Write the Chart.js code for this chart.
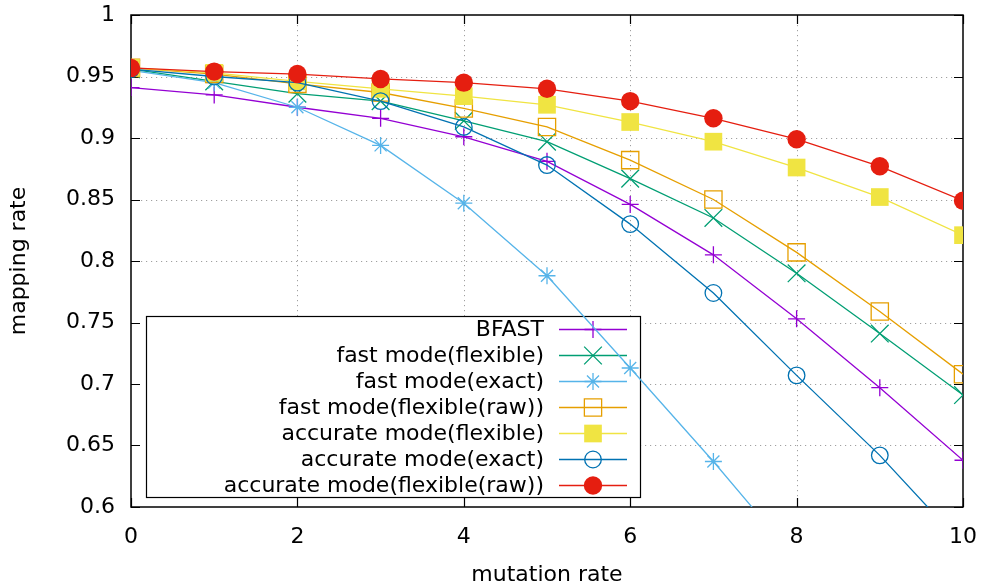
<!DOCTYPE html>
<html>
<head>
<meta charset="utf-8">
<script src="https://cdn.jsdelivr.net/npm/chart.js@4/dist/chart.umd.min.js"></script>
<style>
  html, body { margin: 0; padding: 0; background: #fff; }
  #wrap { width: 983px; height: 588px; }
</style>
</head>
<body>
<div id="wrap"><canvas id="c" width="983" height="588"></canvas></div>
<script>
// ---- data ----
const mutationRates = [0, 1, 2, 3, 4, 5, 6, 7, 8, 9, 10];
const seriesNames = [
  'BFAST',
  'fast mode(flexible)',
  'fast mode(exact)',
  'fast mode(flexible(raw))',
  'accurate mode(flexible)',
  'accurate mode(exact)',
  'accurate mode(flexible(raw))'
];
const bfast           = [0.941, 0.935, 0.925, 0.916, 0.901, 0.881, 0.846, 0.805, 0.753, 0.697, 0.638];
const fastFlexible    = [0.956, 0.946, 0.936, 0.930, 0.914, 0.897, 0.867, 0.835, 0.790, 0.741, 0.691];
const fastExact       = [0.955, 0.945, 0.925, 0.894, 0.847, 0.788, 0.713, 0.637, 0.557, null, null];
const fastFlexibleRaw = [0.957, 0.952, 0.944, 0.937, 0.924, 0.909, 0.882, 0.850, 0.807, 0.759, 0.708];
const accFlexible     = [0.957, 0.953, 0.946, 0.940, 0.934, 0.927, 0.913, 0.897, 0.876, 0.852, 0.821];
const accExact        = [0.956, 0.950, 0.945, 0.930, 0.909, 0.878, 0.830, 0.774, 0.707, 0.642, 0.569];
const accFlexibleRaw  = [0.957, 0.954, 0.952, 0.948, 0.945, 0.940, 0.930, 0.916, 0.899, 0.877, 0.849];
const xTickValues = [0, 2, 4, 6, 8, 10];
const yTickValues = [0.6, 0.65, 0.7, 0.75, 0.8, 0.85, 0.9, 0.95, 1];

const seriesValues = [bfast, fastFlexible, fastExact, fastFlexibleRaw, accFlexible, accExact, accFlexibleRaw];

// ---- styles ----
const colors = ['#9400d3', '#009e73', '#56b4e9', '#e69f00', '#f0e442', '#0072b2', '#e51e10'];
const pStyles = ['cross', 'crossRot', 'star', 'rect', 'rect', 'circle', 'circle'];
const pRadius = [8.5, 12.5, 8.5, 12.2, 12.5, 8.3, 9.2];
const pFilled = [false, false, false, false, true, false, true];
const FONT = '"DejaVu Sans", "Liberation Sans", sans-serif';
const FS = 22;

const datasets = seriesValues.map((vals, i) => ({
  label: seriesNames[i],
  data: mutationRates.map((x, k) => ({ x: x, y: vals[k] })),
  borderColor: colors[i],
  backgroundColor: pFilled[i] ? colors[i] : 'rgba(0,0,0,0)',
  pointBorderColor: colors[i],
  pointBackgroundColor: pFilled[i] ? colors[i] : 'rgba(0,0,0,0)',
  pointStyle: pStyles[i],
  pointRadius: pRadius[i],
  pointBorderWidth: pFilled[i] ? 0.01 : 1.3,
  borderWidth: 1.3,
  tension: 0,
  spanGaps: false,
  order: -i
}));

// gnuplot-like frame: dotted grid, border, inward mirrored ticks, boxed key
const framePlugin = {
  id: 'gpFrame',
  beforeDatasetsDraw(chart) {
    const ctx = chart.ctx;
    const a = chart.chartArea;
    const xs = chart.scales.x, ys = chart.scales.y;
    const key = { left: a.left + 15, top: a.bottom - 191, right: a.left + 509, bottom: a.bottom - 10 };
    ctx.save();
    // grid
    ctx.strokeStyle = '#a0a0a0';
    ctx.lineWidth = 1;
    ctx.setLineDash([1.2, 3.8]);
    xTickValues.forEach(v => {
      const px = Math.round(xs.getPixelForValue(v)) + 0.5;
      if (px <= a.left + 1 || px >= a.right - 1) return;
      ctx.beginPath();
      ctx.moveTo(px, a.top);
      const stopY = (px > key.left && px < key.right) ? key.top : a.bottom;
      ctx.lineTo(px, stopY);
      ctx.stroke();
    });
    yTickValues.forEach(v => {
      const py = Math.round(ys.getPixelForValue(v)) + 0.5;
      if (py <= a.top + 1 || py >= a.bottom - 1) return;
      ctx.beginPath();
      if (py > key.top && py < key.bottom) {
        ctx.moveTo(key.right, py);
      } else {
        ctx.moveTo(a.left, py);
      }
      ctx.lineTo(a.right, py);
      ctx.stroke();
    });
    ctx.setLineDash([]);
    // border
    ctx.strokeStyle = '#000';
    ctx.lineWidth = 1.5;
    ctx.strokeRect(a.left, a.top, a.right - a.left, a.bottom - a.top);
    // ticks (inward, mirrored)
    const tl = 9;
    ctx.lineWidth = 1.2;
    ctx.beginPath();
    xTickValues.forEach(v => {
      const px = Math.round(xs.getPixelForValue(v)) + 0.5;
      ctx.moveTo(px, a.bottom); ctx.lineTo(px, a.bottom - tl);
      ctx.moveTo(px, a.top); ctx.lineTo(px, a.top + tl);
    });
    yTickValues.forEach(v => {
      const py = Math.round(ys.getPixelForValue(v)) + 0.5;
      ctx.moveTo(a.left, py); ctx.lineTo(a.left + tl, py);
      ctx.moveTo(a.right, py); ctx.lineTo(a.right - tl, py);
    });
    ctx.stroke();
    // key box
    ctx.lineWidth = 1.2;
    ctx.strokeStyle = '#000';
    ctx.strokeRect(key.left + 0.5, key.top + 0.5, key.right - key.left, key.bottom - key.top);
    ctx.font = FS + 'px ' + FONT;
    ctx.textAlign = 'right';
    ctx.textBaseline = 'middle';
    chart.data.datasets.forEach((ds, i) => {
      const y = key.top + 13 + i * 26;
      ctx.fillStyle = '#000';
      ctx.fillText(ds.label, key.left + 398, y + 1);
      ctx.strokeStyle = ds.borderColor;
      ctx.lineWidth = ds.borderWidth;
      ctx.beginPath();
      ctx.moveTo(key.left + 413, y + 0.5);
      ctx.lineTo(key.left + 481, y + 0.5);
      ctx.stroke();
      ctx.fillStyle = ds.pointBackgroundColor;
      ctx.strokeStyle = ds.pointBorderColor;
      ctx.lineWidth = ds.pointBorderWidth;
      Chart.helpers.drawPoint(ctx, {
        pointStyle: ds.pointStyle, radius: ds.pointRadius, rotation: 0, borderWidth: ds.pointBorderWidth
      }, key.left + 447, y + 0.5);
    });
    ctx.restore();
  }
};

new Chart(document.getElementById('c'), {
  type: 'line',
  data: { datasets: datasets },
  options: {
    responsive: false,
    animation: false,
    devicePixelRatio: 1,
    layout: { padding: { left: 0, right: 20, top: 15, bottom: 0 } },
    plugins: { legend: { display: false }, tooltip: { enabled: false }, title: { display: false } },
    elements: { line: { fill: false } },
    scales: {
      x: {
        type: 'linear',
        min: 0, max: 10,
        afterBuildTicks: s => { s.ticks = xTickValues.map(v => ({ value: v })); },
        afterFit: s => { s.height = 81; s.paddingLeft = 0; s.paddingRight = 0; },
        grid: { display: false, drawTicks: false },
        border: { display: false },
        ticks: {
          color: '#000', padding: 17, maxRotation: 0,
          font: { family: FONT, size: FS },
          callback: v => String(v)
        },
        title: {
          display: true, text: 'mutation rate', color: '#000',
          font: { family: FONT, size: FS }, padding: { top: 0, bottom: 0 }
        }
      },
      y: {
        type: 'linear',
        min: 0.6, max: 1,
        afterBuildTicks: s => { s.ticks = yTickValues.map(v => ({ value: v })); },
        afterFit: s => { s.width = 131; s.paddingTop = 0; s.paddingBottom = 0; },
        grid: { display: false, drawTicks: false },
        border: { display: false },
        ticks: {
          color: '#000', padding: 16,
          font: { family: FONT, size: FS },
          callback: v => String(Number(v.toFixed(2)))
        },
        title: {
          display: true, text: 'mapping rate', color: '#000',
          font: { family: FONT, size: FS }, padding: { top: 6, bottom: 0 }
        }
      }
    }
  },
  plugins: [framePlugin]
});
</script>
</body>
</html>
